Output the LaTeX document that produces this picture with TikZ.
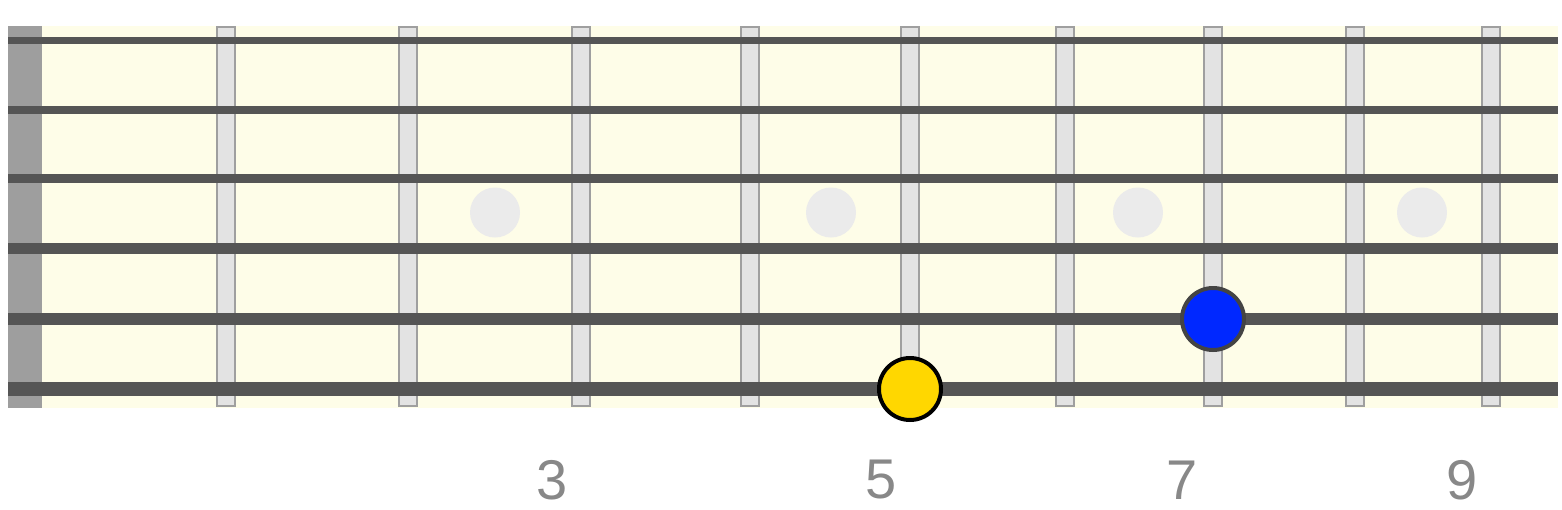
\documentclass[tikz,border=0pt]{standalone}
\usepackage{fontspec}
\setmainfont{Liberation Sans}
\definecolor{board}{HTML}{FEFDE8}
\definecolor{nutcol}{HTML}{9E9E9E}
\definecolor{fretfill}{HTML}{E3E3E3}
\definecolor{fretline}{HTML}{9F9F9F}
\definecolor{stringcol}{HTML}{555555}
\definecolor{inlaycol}{HTML}{EBEBEB}
\definecolor{rootcol}{HTML}{FFD700}
\definecolor{notecol}{HTML}{0028FF}
\definecolor{numcol}{HTML}{888888}
\begin{document}
\begin{tikzpicture}[x=1pt, y=-1pt,
  fretbar/.style={draw=fretline, fill=fretfill, line width=2pt},
  gstring/.style={draw=stringcol},
  inlay/.style={circle, fill=inlaycol, minimum size=50pt, inner sep=0pt},
  finger/.style={circle, line width=4pt, minimum size=62pt, inner sep=0pt},
  fretnum/.style={text=numcol, inner sep=0pt, font=\fontsize{56}{64}\selectfont}]
\useasboundingbox (0,0) rectangle (1562,509);
% board and nut
\fill[board] (8,26) rectangle (1558,408);
\fill[nutcol] (8,26) rectangle (42,408);
% frets
\foreach \x in {226,408,581,750,910,1065,1213,1355,1491}
  \draw[fretbar] (\x-9,27) rectangle (\x+9,406);
% inlays
\foreach \x/\n in {495/3,831/5,1138/7,1422/9}
  \node[inlay] (inlay\n) at (\x,212.5) {};
% strings
\foreach \y/\w in {40.5/7,110/8,178.5/9,248.5/10.5,319/12.5,389/14.5}
  \draw[gstring, line width=\w pt] (8,\y) -- (1558,\y);
% notes
\node[finger, draw=black, fill=rootcol] (root) at (910,389) {};
\node[finger, draw=stringcol!80!black, fill=notecol] (fifth) at (1213,319) {};
% fret numbers
\node[fretnum] (num3) at (552,480) {3};
\node[fretnum] (num5) at (881,480) {5};
\node[fretnum] (num7) at (1182,480) {7};
\node[fretnum] (num9) at (1462,480) {9};
\end{tikzpicture}
\end{document}
